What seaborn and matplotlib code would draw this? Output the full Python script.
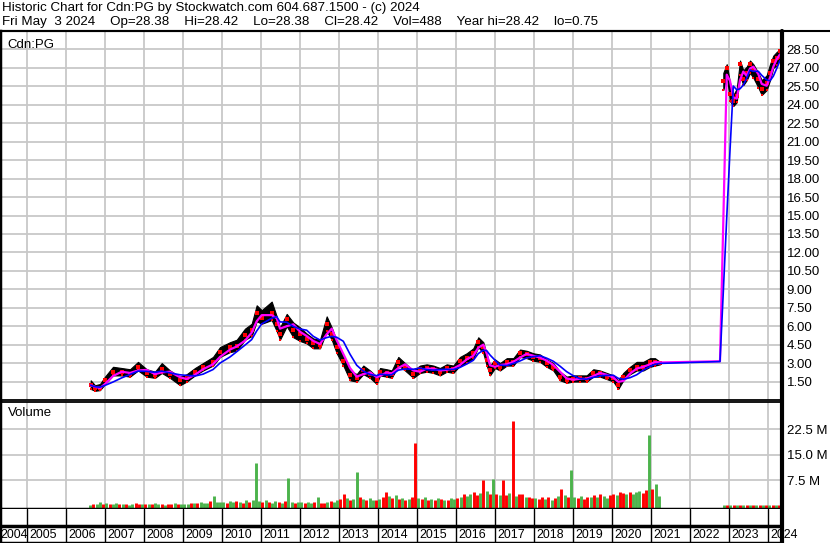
import numpy as np
import pandas as pd
import matplotlib
matplotlib.use("Agg")
import matplotlib.pyplot as plt
from matplotlib.lines import Line2D
import seaborn as sns

# ---------------- data ----------------
price_dates = [
    2006.641, 2006.751, 2006.879, 2007.008, 2007.213, 2007.436, 2007.649, 2007.854,
    2008.077, 2008.290, 2008.462, 2008.674, 2008.931, 2009.103, 2009.315, 2009.521,
    2009.777, 2009.956, 2010.213, 2010.385, 2010.597, 2010.769, 2010.897, 2011.026,
    2011.282, 2011.410, 2011.495, 2011.667, 2011.836, 2012.008, 2012.179, 2012.349,
    2012.521, 2012.692, 2012.821, 2012.949, 2013.118, 2013.290, 2013.462, 2013.631,
    2013.803, 2013.974, 2014.059, 2014.231, 2014.359, 2014.528, 2014.700, 2014.913,
    2015.085, 2015.256, 2015.426, 2015.597, 2015.769, 2015.938, 2016.110, 2016.282,
    2016.451, 2016.579, 2016.708, 2016.795, 2016.879, 2017.008, 2017.136, 2017.308,
    2017.477, 2017.649, 2017.821, 2017.990, 2018.162, 2018.333, 2018.503, 2018.674,
    2018.846, 2019.015, 2019.187, 2019.359, 2019.528, 2019.700, 2019.872, 2020.041,
    2020.169, 2020.297, 2020.469, 2020.641, 2020.810, 2020.982, 2021.110, 2021.238,
    2022.777,
    2022.862, 2022.949, 2023.033, 2023.118, 2023.205, 2023.290, 2023.374, 2023.462,
    2023.546, 2023.631, 2023.759, 2023.846, 2023.974, 2024.059, 2024.144, 2024.231,
    2024.315,
]
price_close = [
    1.2, 0.95, 1.0, 1.6, 2.3, 2.3, 2.1, 2.7,
    2.2, 2.0, 2.5, 2.1, 1.6, 1.8, 2.3, 2.7,
    3.1, 3.9, 4.3, 4.4, 5.25, 5.7, 7.1, 6.7,
    7.1, 6.2, 5.4, 6.6, 5.7, 5.4, 5.0, 4.6,
    4.5, 6.2, 5.4, 4.3, 3.2, 2.0, 1.8, 2.4,
    2.1, 1.6, 2.3, 2.2, 2.1, 3.1, 2.7, 2.1,
    2.5, 2.6, 2.5, 2.3, 2.6, 2.5, 3.2, 3.4,
    3.8, 4.7, 4.3, 3.25, 2.4, 3.0, 2.7, 3.1,
    3.1, 3.8, 3.7, 3.5, 3.4, 3.0, 2.7, 1.9,
    1.6, 1.7, 1.75, 1.7, 2.2, 2.2, 1.9, 1.75,
    1.2, 1.9, 2.4, 2.7, 2.7, 3.1, 3.1, 3.0,
    3.3,
    25.9, 27.0, 24.9, 24.3, 24.7, 27.3, 26.1, 26.6,
    27.3, 26.9, 26.1, 25.3, 25.8, 26.6, 27.6, 27.8,
    28.4,
]
price_high = [
    1.6, 1.2, 1.3, 1.9, 2.7, 2.6, 2.5, 3.1,
    2.5, 2.3, 3.0, 2.4, 1.9, 2.1, 2.6, 3.0,
    3.5, 4.3, 4.7, 4.9, 5.8, 6.2, 7.7, 7.3,
    8.0, 6.8, 5.9, 7.0, 6.3, 5.9, 5.4, 5.0,
    4.9, 6.8, 5.9, 4.8, 3.6, 2.4, 2.1, 2.8,
    2.4, 1.9, 2.6, 2.5, 2.4, 3.5, 3.0, 2.4,
    2.8, 2.9, 2.8, 2.6, 2.9, 2.8, 3.5, 3.8,
    4.2, 5.1, 4.7, 3.7, 2.8, 3.3, 3.0, 3.4,
    3.4, 4.1, 4.0, 3.8, 3.7, 3.3, 3.0, 2.3,
    1.9, 2.0, 2.0, 2.0, 2.5, 2.4, 2.2, 2.0,
    1.6, 2.2, 2.7, 3.1, 3.1, 3.4, 3.4, 3.1,
    3.3,
    26.6, 27.3, 25.8, 24.8, 25.3, 27.6, 26.8, 27.1,
    27.6, 27.3, 26.6, 26.0, 26.4, 27.3, 28.0, 28.3,
    28.5,
]
price_low = [
    0.9, 0.75, 0.8, 1.3, 2.0, 2.0, 1.9, 2.4,
    1.9, 1.8, 2.2, 1.8, 1.2, 1.5, 2.0, 2.4,
    2.8, 3.5, 3.9, 4.0, 4.9, 5.2, 6.4, 6.2,
    6.5, 5.6, 4.9, 6.0, 5.1, 4.8, 4.6, 4.2,
    4.2, 5.6, 4.9, 3.8, 2.8, 1.6, 1.5, 2.1,
    1.8, 1.3, 2.0, 1.9, 1.8, 2.8, 2.4, 1.8,
    2.2, 2.3, 2.2, 2.0, 2.3, 2.2, 2.8, 3.0,
    3.4, 4.3, 3.8, 2.8, 2.0, 2.6, 2.4, 2.8,
    2.8, 3.5, 3.4, 3.2, 3.1, 2.7, 2.4, 1.6,
    1.4, 1.5, 1.5, 1.5, 1.9, 1.9, 1.7, 1.5,
    0.9, 1.6, 2.1, 2.4, 2.4, 2.7, 2.8, 2.9,
    3.3,
    25.2, 26.4, 24.3, 23.9, 24.2, 26.4, 25.6, 26.0,
    26.6, 26.2, 25.4, 24.8, 25.2, 26.0, 27.0, 27.2,
    27.8,
]
price_segment = [1] * 88 + [2] + [3] * 17

# monthly volume in millions, Aug 2006 .. Mar 2021, then Nov 2022 .. Apr 2024
vol_2006 = [0.4, 0.6, 0.5, 1.2, 0.5]
vol_2007 = [0.8, 0.7, 0.5, 0.9, 0.6, 0.5, 0.7, 0.4, 0.6, 0.8, 0.5, 0.6]
vol_2008 = [0.6, 0.5, 0.7, 0.8, 0.5, 0.6, 0.4, 0.5, 0.7, 0.9, 0.6, 0.5]
vol_2009 = [0.7, 0.6, 0.8, 1.0, 0.9, 1.2, 0.8, 1.0, 1.4, 2.9, 1.1, 1.3]
vol_2010 = [1.2, 1.0, 1.4, 1.1, 1.5, 1.3, 1.0, 1.6, 1.2, 1.8, 12.7, 1.5]
vol_2011 = [1.3, 1.7, 1.2, 1.0, 1.4, 1.1, 0.9, 1.5, 8.1, 1.2, 1.0, 1.3]
vol_2012 = [1.1, 0.9, 1.3, 1.0, 1.2, 2.7, 1.0, 0.8, 1.1, 1.4, 1.2, 1.6]
vol_2013 = [1.9, 3.6, 2.3, 1.8, 2.1, 10.0, 2.6, 1.9, 1.7, 2.2, 1.6, 1.8]
vol_2014 = [2.1, 2.5, 4.0, 2.9, 2.3, 3.2, 2.0, 2.2, 1.7, 2.1, 2.6, 18.5]
vol_2015 = [2.3, 2.0, 2.5, 1.8, 2.1, 1.7, 2.2, 2.0, 1.6, 1.8, 2.3, 2.1]
vol_2016 = [2.2, 2.6, 3.4, 2.9, 3.6, 4.0, 3.3, 3.9, 7.6, 4.4, 3.5, 8.0]
vol_2017 = [3.6, 3.3, 7.6, 3.1, 3.8, 25.0, 2.9, 3.4, 3.6, 2.5, 2.7, 2.3]
vol_2018 = [2.2, 2.0, 2.6, 2.1, 2.5, 1.8, 2.3, 2.9, 5.1, 3.1, 2.5, 10.6]
vol_2019 = [2.6, 2.3, 3.0, 2.1, 2.7, 2.5, 3.1, 2.6, 3.4, 2.9, 2.3, 3.3]
vol_2020 = [3.5, 3.1, 4.2, 3.8, 3.4, 4.0, 3.6, 4.0, 4.3, 3.8, 4.6, 20.8]
vol_2021 = [5.0, 6.5, 3.0]
vol_late = [0.2, 0.3, 0.2, 0.2, 0.3, 0.2, 0.2, 0.3, 0.2, 0.2, 0.3, 0.2, 0.2, 0.3,
            0.2, 0.2, 0.3, 0.2]
# g = up (green) month, r = down (red) month
vol_dir_early = ("grggr" "grggrgrggrrg" "rgrggrgrrgrg" "ggrgrgggrggg"
                 "grggrgrgrggg" "rgrggrgrggrg" "grggrgrrgrgg" "rrgrggrgrggr"
                 "grrgrgrgrgrr" "grgrgrgrgrgg" "rgrggrrgrgrg" "rgrrgrgrrgrr"
                 "grrgrgrgrgrg" "grgrrgrgrggr" "rgrrgrgggrrg" "rgg")
vol_dir_late = "grgrgrgrgrgrgrgrgr"

y_ticks = [1.5, 3.0, 4.5, 6.0, 7.5, 9.0, 10.5, 12.0, 13.5, 15.0, 16.5, 18.0,
           19.5, 21.0, 22.5, 24.0, 25.5, 27.0, 28.5]
vol_ticks = [7.5, 15.0, 22.5]
vol_tick_labels = ["7.5 M", "15.0 M", "22.5 M"]
years = list(range(2004, 2025))
header_1 = "Historic Chart for Cdn:PG by Stockwatch.com 604.687.1500 - (c) 2024"
header_2 = ("Fri May  3 2024    Op=28.38    Hi=28.42    Lo=28.38    Cl=28.42    "
            "Vol=488    Year hi=28.42    lo=0.75")

# ---------------- build tables ----------------
price = pd.DataFrame({"date": price_dates, "close": price_close,
                      "high": price_high, "low": price_low,
                      "seg": price_segment})
price["ma_short"] = price["close"].rolling(2, min_periods=1).mean()
price["ma_long"] = price["close"].rolling(4, min_periods=1).mean()

vol_early = (vol_2006 + vol_2007 + vol_2008 + vol_2009 + vol_2010 + vol_2011 +
             vol_2012 + vol_2013 + vol_2014 + vol_2015 + vol_2016 + vol_2017 +
             vol_2018 + vol_2019 + vol_2020 + vol_2021)
d_early = pd.date_range("2006-08-01", periods=len(vol_early), freq="MS")
d_late = pd.date_range("2022-11-01", periods=len(vol_late), freq="MS")
dts = d_early.append(d_late)
vol = pd.DataFrame({
    "date": dts.year + (dts.month - 1) / 12 + 0.04,
    "volume": vol_early + vol_late,
    "dir": list(vol_dir_early) + list(vol_dir_late),
})

# ---------------- figure ----------------
sns.set_theme(style="white")
plt.rcParams["font.family"] = ["Liberation Sans", "DejaVu Sans"]

W, H = 830, 543
fig = plt.figure(figsize=(W / 100, H / 100), dpi=100)
fig.patch.set_facecolor("white")

def fx(px):
    return px / W

def fy(py):
    return 1 - py / H

XL = (2004.3154, 2024.341)
GRID = "#c8c8c8"

ax = fig.add_axes([0, fy(400), fx(781), (400 - 31) / H])
axv = fig.add_axes([0, fy(509), fx(781), (509 - 402) / H])
axl = fig.add_axes([0, 0, fx(781), 34 / H])

# --- price panel ---
ax.set_xlim(*XL)
ax.set_ylim(0, 30)
for yv in y_ticks:
    ax.axhline(yv, color=GRID, lw=1.3, zorder=0)
for yr in years[1:]:
    ax.axvline(yr, color=GRID, lw=1.3, zorder=0)
for s in (1, 3):
    sub = price[price["seg"] == s]
    ax.fill_between(sub["date"], sub["low"], sub["high"], color="black",
                    lw=0.8, edgecolor="black", zorder=2)
sns.scatterplot(data=price[price["seg"] != 2], x="date", y="close", ax=ax,
                color="#ff0000", marker="s", s=5, linewidth=0, zorder=3,
                legend=False)
sns.scatterplot(data=price[price["seg"] != 2], x="date", y="low", ax=ax,
                color="#ff0000", marker="s", s=4, linewidth=0, zorder=3,
                legend=False)
sns.lineplot(data=price, x="date", y="ma_short", ax=ax, color="#ff00ff",
             lw=1.6, sort=False, zorder=4)
sns.lineplot(data=price, x="date", y="ma_long", ax=ax, color="#0000ff",
             lw=1.2, sort=False, zorder=5)
ax.set_xlabel("")
ax.set_ylabel("")
ax.set_xticks([])
ax.yaxis.tick_right()
ax.set_yticks(y_ticks)
ax.set_yticklabels([f"{v:.2f}" for v in y_ticks])
ax.tick_params(axis="y", length=0, pad=4, labelsize=9.5, colors="black")
ax.text(0.01, 0.962, "Cdn:PG", transform=ax.transAxes, fontsize=9.5,
        va="center", ha="left", color="black")
for side in ("left", "right", "top", "bottom"):
    ax.spines[side].set_color("black")
ax.spines["bottom"].set_linewidth(1.3)
ax.spines["top"].set_linewidth(1.5)
ax.spines["left"].set_linewidth(2.5)
ax.spines["right"].set_visible(False)

# --- volume panel ---
axv.set_xlim(*XL)
axv.set_ylim(-0.9, 30.5)
for yv in vol_ticks:
    axv.axhline(yv, color=GRID, lw=1.3, zorder=0)
for yr in years[1:]:
    axv.axvline(yr, color=GRID, lw=1.3, zorder=0)
colors = np.where(vol["dir"] == "g", "#4cb34c", "#ff0000")
axv.vlines(vol["date"], -0.9, vol["volume"], colors=colors, lw=2.1, zorder=2)
axv.set_xticks([])
axv.yaxis.tick_right()
axv.set_yticks(vol_ticks)
axv.set_yticklabels(vol_tick_labels)
axv.tick_params(axis="y", length=0, pad=4, labelsize=9.5, colors="black")
axv.text(0.01, 0.9, "Volume", transform=axv.transAxes, fontsize=9.5,
         va="center", ha="left", color="black")
for side in ("left", "right", "top", "bottom"):
    axv.spines[side].set_color("black")
axv.spines["top"].set_linewidth(1.3)
axv.spines["bottom"].set_linewidth(2.5)
axv.spines["left"].set_linewidth(2.5)
axv.spines["right"].set_visible(False)

# --- year strip ---
axl.set_xlim(*XL)
axl.set_ylim(0, 34)
axl.axhline(17, color="black", lw=2.5)
axl.axhline(0.5, color="black", lw=2.5)
for yr in years[1:]:
    axl.axvline(yr, color="black", lw=1.0)
for yr in years:
    xpos = max(yr + 0.07, XL[0] + 0.01)
    axl.text(xpos, 8.0, str(yr), fontsize=8.9, ha="left", va="center",
             color="black", clip_on=False)
axl.set_xticks([])
axl.set_yticks([])
for side in ("left", "right", "top", "bottom"):
    axl.spines[side].set_visible(False)
axl.spines["left"].set_visible(True)
axl.spines["left"].set_linewidth(2.5)
axl.spines["left"].set_color("black")

# --- frame lines and header ---
fig.add_artist(Line2D([0, 1], [fy(31), fy(31)], color="black", lw=1.5,
                      transform=fig.transFigure))
fig.add_artist(Line2D([fx(781.5), fx(781.5)], [fy(31), 0], color="black",
                      lw=3, transform=fig.transFigure))
fig.text(fx(2), fy(8.5), header_1, fontsize=9.6, ha="left", va="center",
         color="black")
fig.text(fx(2), fy(22.5), header_2, fontsize=9.6, ha="left", va="center",
         color="black")

fig.savefig("out.png", dpi=100, facecolor="white")
